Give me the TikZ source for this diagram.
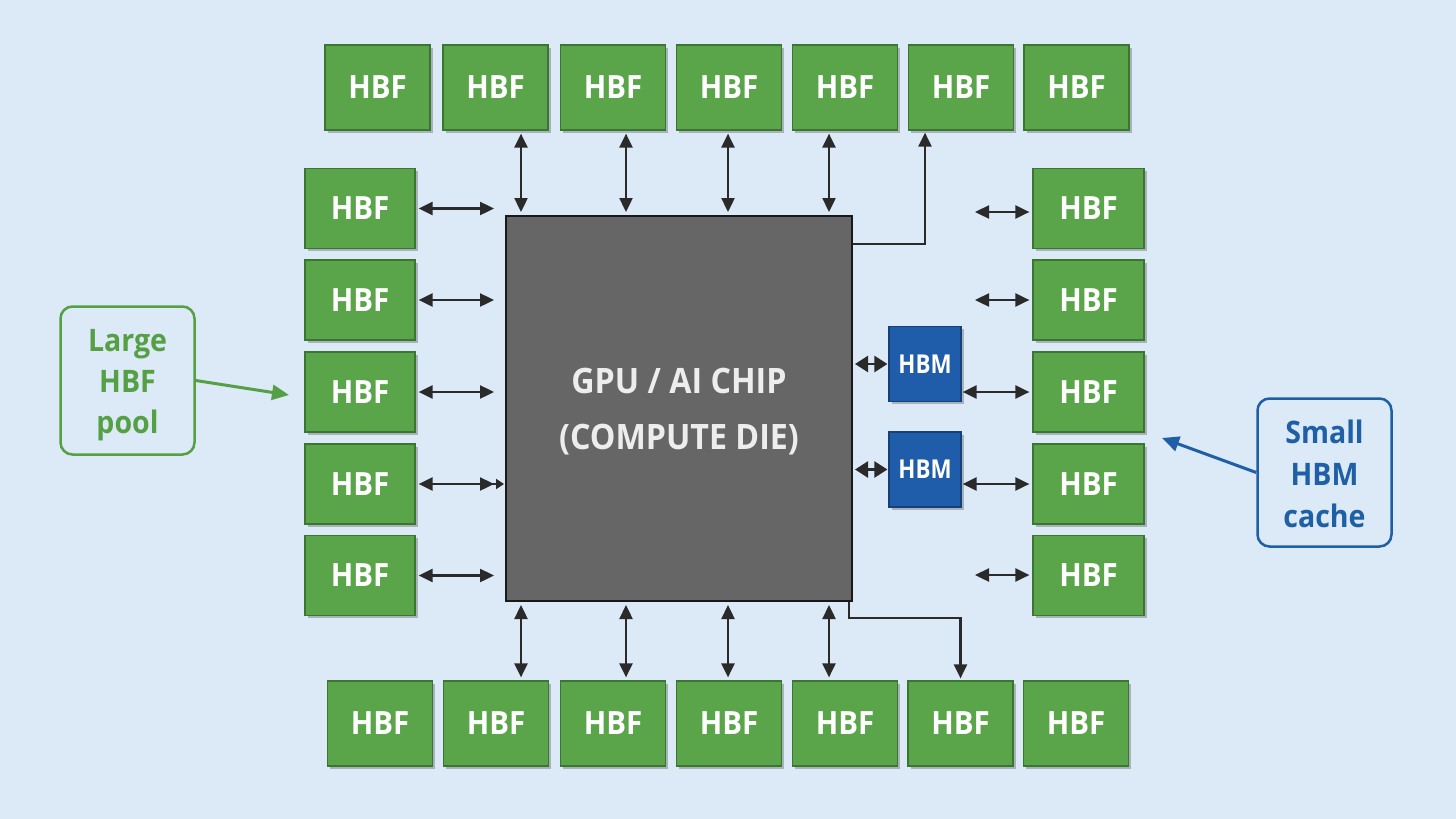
\documentclass[tikz,border=0pt]{standalone}
\usepackage{fontspec}
\setmainfont{Open Sans}
\newfontfamily\hbffont{Open Sans}[FakeStretch=0.92]
\newfontfamily\hbmfont{Open Sans}[FakeStretch=0.86]
\newcommand\osemi{\bfseries}
\usetikzlibrary{arrows.meta,shadows,calc}
\definecolor{bgc}{HTML}{DCE9F7}
\definecolor{hbfgreen}{HTML}{5AA54A}
\definecolor{hbfdark}{HTML}{3A7630}
\definecolor{hbmblue}{HTML}{1F5CA9}
\definecolor{hbmdark}{HTML}{15407A}
\definecolor{labgreen}{HTML}{55A044}
\definecolor{labblue}{HTML}{1E5FA6}
\definecolor{chipgray}{HTML}{666666}
\definecolor{arrowc}{HTML}{2A2A2A}
\begin{document}
\begin{tikzpicture}[x=1pt,y=-1pt,
  shad/.style={drop shadow={shadow xshift=2.5pt,shadow yshift=-2.5pt,opacity=0.35,fill=black!70}},
  hbf/.style={draw=hbfdark,fill=hbfgreen,line width=1.2pt,inner sep=0pt,text=white,
    font=\hbffont\fontsize{32}{34}\selectfont\bfseries,shad},
  tw/.style={hbf,minimum width=105pt,minimum height=85pt},
  lw/.style={hbf,minimum width=110pt,minimum height=80pt},
  hbm/.style={draw=hbmdark,fill=hbmblue,line width=1.2pt,inner sep=0pt,text=white,
    minimum width=72pt,minimum height=75pt,font=\hbmfont\bfseries\fontsize{26}{28}\selectfont,shad},
  chipst/.style={draw=black!90,fill=chipgray,line width=2pt,minimum width=346pt,minimum height=385pt,
    text=black!7,align=center,text height=89pt,text depth=8pt,font=\hbffont\osemi\fontsize{35}{56}\selectfont},
  lab/.style={rounded corners=12pt,line width=2.5pt,align=center,inner sep=0pt,
    minimum width=134pt,minimum height=148pt},
  bigtip/.tip={Triangle[length=14pt,width=13pt]},
  dbl/.style={draw=arrowc,line width=2.4pt,{bigtip}-{bigtip}},
  one/.style={draw=arrowc,line width=2.2pt,-{bigtip}},
  hbmtip/.tip={Triangle[length=13pt,width=16pt]},
]
\fill[bgc] (0,0) rectangle (1456,819);
\useasboundingbox (0,0) rectangle (1456,819);

% chip
\node[chipst] (chip) at (679,408.5) {GPU / AI CHIP\\(COMPUTE DIE)};

% top row
\node[tw] (t1) at (377.5,87.5) {HBF};
\node[tw] (t2) at (495.5,87.5) {HBF};
\node[tw] (t3) at (613,87.5) {HBF};
\node[tw] (t4) at (729,87.5) {HBF};
\node[tw] (t5) at (845,87.5) {HBF};
\node[tw] (t6) at (961,87.5) {HBF};
\node[tw] (t7) at (1076.5,87.5) {HBF};
% bottom row
\node[tw] (b1) at (380,723.5) {HBF};
\node[tw] (b2) at (496,723.5) {HBF};
\node[tw] (b3) at (613,723.5) {HBF};
\node[tw] (b4) at (729,723.5) {HBF};
\node[tw] (b5) at (845,723.5) {HBF};
\node[tw] (b6) at (960.5,723.5) {HBF};
\node[tw] (b7) at (1076,723.5) {HBF};
% left column
\node[lw] (l1) at (360,208.5) {HBF};
\node[lw] (l2) at (360,300) {HBF};
\node[lw] (l3) at (360,392) {HBF};
\node[lw] (l4) at (360,484) {HBF};
\node[lw] (l5) at (360,575.5) {HBF};
% right column
\node[lw,minimum width=111pt] (r1) at (1088.5,208.5) {HBF};
\node[lw,minimum width=111pt] (r2) at (1088.5,300) {HBF};
\node[lw,minimum width=111pt] (r3) at (1088.5,392) {HBF};
\node[lw,minimum width=111pt] (r4) at (1088.5,484) {HBF};
\node[lw,minimum width=111pt] (r5) at (1088.5,575.5) {HBF};
% HBM
\node[hbm] (h1) at (925,364) {HBM};
\node[hbm] (h2) at (925,469.5) {HBM};

% labels
\node[lab,draw=labgreen,text=labgreen,text height=114pt,text depth=9pt,
  font=\hbffont\osemi\fontsize{31}{41}\selectfont] (large) at (127.5,380.5) {Large\\HBF\\pool};
\node[lab,draw=labblue,text=labblue,text height=118pt,text depth=9pt,
  font=\hbffont\osemi\fontsize{31}{42}\selectfont] (small) at (1324.5,472.5) {Small\\HBM\\cache};
\coordinate (ltip) at (289,395);
\coordinate (stip) at (1162,438);
\draw[labgreen,line width=3pt,-{Triangle[length=17pt,width=15pt]}] (large.east) -- (ltip);
\draw[labblue,line width=3pt,-{Triangle[length=17pt,width=15pt]}] (small.west) -- (stip);

% top connectors
\coordinate (xa1) at (521,0);
\coordinate (xa2) at (626,0);
\coordinate (xa3) at (728,0);
\coordinate (xa4) at (829,0);
\draw[dbl,shorten <=3pt,shorten >=3pt] (t2.south -| xa1) -- (chip.north -| xa1);
\draw[dbl,shorten <=3pt,shorten >=3pt] (t3.south -| xa2) -- (chip.north -| xa2);
\draw[dbl,shorten <=3pt,shorten >=3pt] (t4.south -| xa3) -- (chip.north -| xa3);
\draw[dbl,shorten <=3pt,shorten >=3pt] (t5.south -| xa4) -- (chip.north -| xa4);
\coordinate (trc) at (925,244);
\draw[one,shorten >=2pt] (chip.east |- trc) -| (t6.south -| trc);

% bottom connectors
\draw[dbl,shorten <=3pt,shorten >=3pt] (chip.south -| xa1) -- (b2.north -| xa1);
\draw[dbl,shorten <=3pt,shorten >=3pt] (chip.south -| xa2) -- (b3.north -| xa2);
\draw[dbl,shorten <=3pt,shorten >=3pt] (chip.south -| xa3) -- (b4.north -| xa3);
\draw[dbl,shorten <=3pt,shorten >=3pt] (chip.south -| xa4) -- (b5.north -| xa4);
\coordinate (brc) at (849,618);
\draw[one,shorten >=2pt] (chip.south -| brc) -- (brc) -| (b6.north);

% left connectors
\draw[dbl,shorten <=3pt,shorten >=11pt] (l1.east) -- (l1.east -| chip.west);
\draw[dbl,shorten <=3pt,shorten >=11pt] (l2.east) -- (l2.east -| chip.west);
\draw[dbl,shorten <=3pt,shorten >=11pt] (l3.east) -- (l3.east -| chip.west);
\draw[draw=arrowc,line width=2.4pt,shorten <=3pt,shorten >=1pt,
  {Triangle[length=14pt,width=13pt]}-{Triangle[length=14pt,width=13pt,sep=2pt] Triangle[length=8pt,width=10pt]}] (l4.east) -- (l4.east -| chip.west);
\draw[dbl,shorten <=3pt,shorten >=11pt] (l5.east) -- (l5.east -| chip.west);

% right connectors
\coordinate (ra1) at (975,212);
\coordinate (ra2) at (975,300);
\coordinate (ra5) at (975,575);
\draw[dbl,shorten >=3pt] (ra1) -- (r1.west |- ra1);
\draw[dbl,shorten >=3pt] (ra2) -- (r2.west |- ra2);
\draw[dbl,shorten >=3pt] (ra5) -- (r5.west |- ra5);
\coordinate (ra3) at (0,392);
\coordinate (ra4) at (0,484);
\draw[dbl,shorten <=1pt,shorten >=3pt] (h1.east |- ra3) -- (r3.west |- ra3);
\draw[dbl,shorten <=1pt,shorten >=3pt] (h2.east |- ra4) -- (r4.west |- ra4);

% HBM to chip
\draw[draw=arrowc,line width=2.4pt,{hbmtip}-{hbmtip},shorten <=2pt,shorten >=1pt] (chip.east |- h1.west) -- (h1.west);
\draw[draw=arrowc,line width=2.4pt,{hbmtip}-{hbmtip},shorten <=2pt,shorten >=1pt] (chip.east |- h2.west) -- (h2.west);
\end{tikzpicture}
\end{document}
